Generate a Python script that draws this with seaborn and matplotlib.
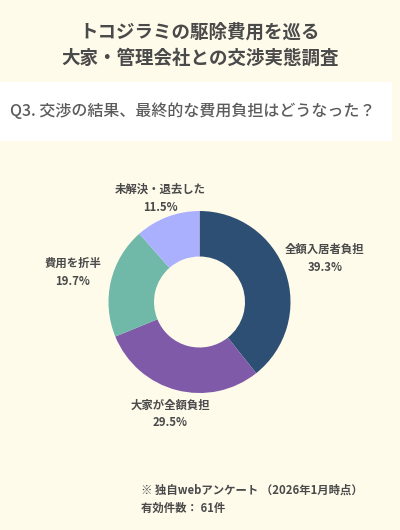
import numpy as np
import matplotlib
matplotlib.use("Agg")
import matplotlib.pyplot as plt
import seaborn as sns

# Survey data
categories = ["全額入居者負担", "大家が全額負担", "費用を折半", "未解決・退去した"]
shares = [39.3, 29.5, 19.7, 11.5]
colors = ["#2c4f73", "#7e5aa9", "#70b8a8", "#aaaffe"]
label_radius = [1.46, 1.27, 1.43, 1.22]

title = "トコジラミの駆除費用を巡る\n大家・管理会社との交渉実態調査"
question = "Q3. 交渉の結果、最終的な費用負担はどうなった？"
note1 = "※ 独自webアンケート （2026年1月時点）"
note2 = "有効件数： 61件"

sns.set_theme(style="white")
plt.rcParams["font.family"] = ["Noto Sans CJK JP", "DejaVu Sans"]

bg = "#fefbeb"
fig = plt.figure(figsize=(4, 5.3), dpi=100, facecolor=bg)

# white band behind the question
band = fig.add_axes([0, 1 - 141 / 530, 392 / 400, 59 / 530])
band.set_facecolor("white")
band.set_xticks([])
band.set_yticks([])
for s in band.spines.values():
    s.set_visible(False)

fig.text(0.5, 1 - 45 / 530, title, ha="center", va="center", fontsize=13.3,
         fontweight="bold", color="#4a4a4a", linespacing=1.45)
fig.text(10 / 400, 1 - 111 / 530, question, ha="left", va="center",
         fontsize=11.5, color="#5c5c5c", fontweight="medium")

# donut
ax = fig.add_axes([108.5 / 400, (530 - 393) / 530, 182 / 400, 182 / 530])
ax.set_facecolor(bg)
wedges, _ = ax.pie(shares, colors=colors, startangle=90, counterclock=False,
                   radius=1, wedgeprops=dict(width=0.5, edgecolor="none"))
ax.set_xlim(-1, 1)
ax.set_ylim(-1, 1)
ax.set_aspect("equal")

for w, cat, val, r in zip(wedges, categories, shares, label_radius):
    ang = np.deg2rad((w.theta1 + w.theta2) / 2)
    ax.text(r * np.cos(ang), r * np.sin(ang), f"{cat}\n{val}%", ha="center",
            va="center", fontsize=8.2, fontweight="bold", color="#4a4a4a",
            linespacing=1.5, clip_on=False)

fig.text(141 / 400, 1 - 490 / 530, note1, ha="left", va="center",
         fontsize=8.2, fontweight="bold", color="#4a4a4a")
fig.text(141 / 400, 1 - 508 / 530, note2, ha="left", va="center",
         fontsize=8.2, fontweight="bold", color="#4a4a4a")

fig.savefig("out.png", dpi=100, facecolor=bg)
